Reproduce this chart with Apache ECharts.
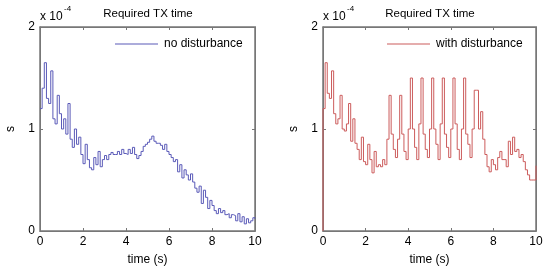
<!DOCTYPE html>
<html>
<head>
<meta charset="utf-8">
<script src="https://cdn.jsdelivr.net/npm/echarts@6/dist/echarts.min.js"></script>
<style>
  html, body { margin: 0; padding: 0; background: #fff; }
  #chart { width: 547px; height: 272px; }
</style>
</head>
<body>
<div id="chart"></div>
<script>
// sample spacing of the recorded step signal (s)
const timeStep = 0.1;

// required TX time, units of 1e-4 s, one value per 0.1 s
const noDisturbance = [
  1.20, 1.40, 1.65, 1.30, 1.25, 1.57, 1.10, 1.05, 1.33, 1.15,
  1.00, 1.10, 0.95, 1.25, 0.90, 0.82, 1.00, 0.85, 0.92, 0.75,
  0.66, 0.85, 0.70, 0.62, 0.60, 0.72, 0.65, 0.78, 0.63, 0.70,
  0.74, 0.70, 0.75, 0.77, 0.75, 0.75, 0.78, 0.75, 0.80, 0.76,
  0.75, 0.80, 0.76, 0.82, 0.75, 0.71, 0.74, 0.78, 0.83, 0.85,
  0.87, 0.90, 0.93, 0.88, 0.86, 0.86, 0.84, 0.80, 0.85, 0.78,
  0.75, 0.72, 0.68, 0.70, 0.58, 0.65, 0.52, 0.60, 0.55, 0.50,
  0.56, 0.48, 0.42, 0.38, 0.44, 0.27, 0.40, 0.33, 0.22, 0.30,
  0.25, 0.20, 0.17, 0.22, 0.18, 0.20, 0.16, 0.17, 0.13, 0.16,
  0.15, 0.10, 0.17, 0.09, 0.14, 0.07, 0.12, 0.08, 0.10, 0.13,
  0.12
];

const withDisturbanceStart = 0;
const withDisturbance = [
  1.20, 1.65, 1.35, 1.30, 1.57, 1.15, 1.05, 1.10, 1.33, 1.00,
  0.98, 1.05, 1.25, 0.88, 1.10, 0.86, 0.80, 0.70, 0.92, 0.68,
  0.65, 0.85, 0.70, 0.57, 0.78, 0.63, 0.65, 0.63, 0.70, 0.65,
  0.90, 1.33, 0.95, 0.80, 0.72, 0.90, 1.33, 0.95, 0.78, 0.70,
  1.00, 1.50, 1.00, 0.82, 0.70, 1.05, 1.50, 0.95, 0.80, 0.72,
  1.00, 1.50, 1.00, 0.85, 0.70, 1.05, 1.50, 0.95, 0.82, 0.72,
  1.00, 1.50, 1.05, 0.80, 0.70, 1.00, 1.50, 0.95, 0.85, 0.72,
  1.00, 1.38, 1.38, 1.00, 1.17, 0.90, 0.75, 0.63, 0.58, 0.70,
  0.65, 0.60, 0.72, 0.78, 0.70, 0.70, 0.63, 0.88, 0.75, 0.92,
  0.78, 0.80, 0.72, 0.75, 0.68, 0.60, 0.55, 0.50, 0.50, 0.50,
  0.64
];

const xTickLabels = ['0', '2', '4', '6', '8', '10'];
const yTickLabels = ['0', '1', '2'];

const axisGray = '#777777';
const font = 'Liberation Sans, Arial, sans-serif';

function toPairs(values) {
  return values.map((v, i) => [+(i * timeStep).toFixed(2), v]);
}

const chart = echarts.init(document.getElementById('chart'));

// MATLAB-style boxed axes
const grids = [
  { left: 40, right: 292, top: 27, bottom: 41, show: true, borderColor: axisGray, borderWidth: 1.5 },
  { left: 323, right: 11, top: 27, bottom: 41, show: true, borderColor: axisGray, borderWidth: 1.5 }
];

const xAxes = [], yAxes = [];
grids.forEach((g, gi) => {
  xAxes.push({
    type: 'value', gridIndex: gi, min: 0, max: 10, interval: 2,
    name: 'time (s)', nameLocation: 'middle', nameGap: 23,
    nameTextStyle: { color: '#000', fontSize: 12, fontFamily: font },
    axisLine: { show: true, onZero: false, lineStyle: { color: axisGray } },
    axisTick: { show: true, inside: true, length: 3, lineStyle: { color: axisGray } },
    axisLabel: { color: '#000', fontSize: 12, fontFamily: font, margin: 5,
      formatter: v => xTickLabels[v / 2] },
    splitLine: { show: false }
  });
  yAxes.push({
    type: 'value', gridIndex: gi, min: 0, max: 2, interval: 1,
    name: 's', nameLocation: 'middle', nameGap: 23, nameRotate: 90,
    nameTextStyle: { color: '#000', fontSize: 12, fontFamily: font },
    axisLine: { show: true, onZero: false, lineStyle: { color: axisGray } },
    axisTick: { show: true, inside: true, length: 3, lineStyle: { color: axisGray } },
    axisLabel: { color: '#000', fontSize: 12, fontFamily: font, margin: 5,
      formatter: v => yTickLabels[v] },
    splitLine: { show: false }
  });
});
// top and right edges with inward ticks
grids.forEach((g, gi) => {
  xAxes.push({
    type: 'value', gridIndex: gi, position: 'top', min: 0, max: 10, interval: 2,
    axisLine: { show: true, onZero: false, lineStyle: { color: axisGray } },
    axisTick: { show: true, inside: true, length: 3, lineStyle: { color: axisGray } },
    axisLabel: { show: false }, splitLine: { show: false }
  });
  yAxes.push({
    type: 'value', gridIndex: gi, position: 'right', min: 0, max: 2, interval: 1,
    axisLine: { show: true, onZero: false, lineStyle: { color: axisGray } },
    axisTick: { show: true, inside: true, length: 3, lineStyle: { color: axisGray } },
    axisLabel: { show: false }, splitLine: { show: false }
  });
});

const titleStyle = { color: '#000', fontSize: 11.5, fontWeight: 'normal', fontFamily: font };
const expStyle = { color: '#000', fontSize: 12, fontWeight: 'normal', fontFamily: font };
const supStyle = { color: '#000', fontSize: 8, fontWeight: 'normal', fontFamily: font };

chart.setOption({
  animation: false,
  backgroundColor: '#fff',
  title: [
    { text: 'Required TX time', left: 148, top: 8, textAlign: 'center', textStyle: titleStyle, padding: 0 },
    { text: 'x 10', left: 40, top: 11, textStyle: expStyle, padding: 0 },
    { text: '-4', left: 64, top: 5, textStyle: supStyle, padding: 0 },
    { text: 'Required TX time', left: 430, top: 8, textAlign: 'center', textStyle: titleStyle, padding: 0 },
    { text: 'x 10', left: 323, top: 11, textStyle: expStyle, padding: 0 },
    { text: '-4', left: 347, top: 5, textStyle: supStyle, padding: 0 }
  ],
  legend: [
    { data: ['no disturbance'], left: 115, top: 38, icon: 'rect', itemWidth: 43, itemHeight: 1,
      itemGap: 0, padding: 0, textStyle: { color: '#000', fontSize: 12, fontFamily: font, padding: [0, 0, 0, 1] } },
    { data: ['with disturbance'], left: 387, top: 38, icon: 'rect', itemWidth: 43, itemHeight: 1,
      itemGap: 0, padding: 0, textStyle: { color: '#000', fontSize: 12, fontFamily: font, padding: [0, 0, 0, 1] } }
  ],
  grid: grids,
  xAxis: xAxes,
  yAxis: yAxes,
  series: [
    {
      name: 'no disturbance', type: 'line', xAxisIndex: 0, yAxisIndex: 0,
      step: 'end', symbol: 'none', data: toPairs(noDisturbance),
      itemStyle: { color: '#5a5ab8' }, lineStyle: { color: '#5a5ab8', width: 1 }
    },
    {
      name: 'with disturbance', type: 'line', xAxisIndex: 1, yAxisIndex: 1,
      step: 'end', symbol: 'none',
      data: [[0, withDisturbanceStart]].concat(toPairs(withDisturbance)),
      itemStyle: { color: '#cc5c5c' }, lineStyle: { color: '#cc5c5c', width: 1 }
    }
  ]
});
</script>
</body>
</html>
